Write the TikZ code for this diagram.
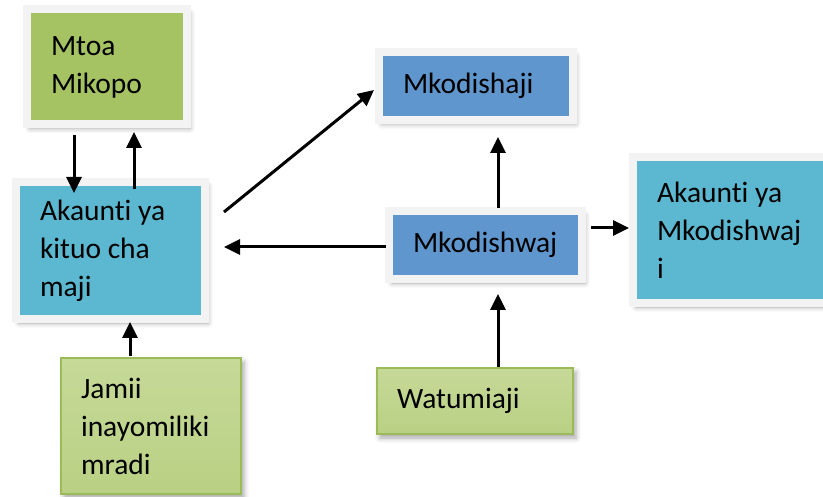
\documentclass[tikz,border=0pt]{standalone}
\usepackage{fontspec}
\setmainfont{Carlito}[Ligatures=NoCommon]
\usetikzlibrary{arrows.meta}
\usetikzlibrary{shadows.blur}

\definecolor{leafGreen}{RGB}{166,195,100}
\definecolor{darkGreen}{RGB}{155,187,89}
\definecolor{paleGreen}{RGB}{198,217,152}
\definecolor{steelBlue}{RGB}{95,150,205}
\definecolor{aquaBlue}{RGB}{92,184,209}
\definecolor{frameGray}{RGB}{243,243,243}

\begin{document}
\begin{tikzpicture}[x=1pt, y=-1pt,
   every node/.style={font=\fontsize{29.5}{38}\selectfont, align=flush left},
   FrameStyle/.style={draw=frameGray, line width=8pt, inner xsep=24pt,
      blur shadow={shadow xshift=3pt, shadow yshift=-4pt, shadow blur radius=5pt, shadow opacity=35}},
   PlainStyle/.style={draw=darkGreen, line width=1.5pt, inner xsep=20pt,
      top color=paleGreen, middle color=leafGreen, bottom color=paleGreen!60!leafGreen,
      blur shadow={shadow xshift=3pt, shadow yshift=-4pt, shadow blur radius=5pt, shadow opacity=35}},
   EdgeStyle/.style={-{Triangle[length=16pt,width=15pt]}, line width=3pt}]
   \useasboundingbox (0,0) rectangle (823,497);
   \clip (0,0) rectangle (823,497);
   \node[FrameStyle, fill=leafGreen, minimum height=115pt, text width=112pt] (mtoa) at (107,67) {Mtoa\\Mikopo};
   \node[FrameStyle, fill=aquaBlue, minimum height=137pt, text width=141pt] (kituo) at (110.5,250.5) {Akaunti ya\\kituo cha\\maji};
   \node[FrameStyle, fill=steelBlue, minimum height=68pt, text width=146pt] (mkodishaji) at (476,86) {Mkodishaji};
   \node[FrameStyle, fill=steelBlue, minimum height=68pt, text width=145pt] (mkodishwaj) at (485.5,245) {Mkodishwaj};
   \node[FrameStyle, fill=aquaBlue, minimum height=146pt, text width=153pt] (akaunti) at (733.5,230) {Akaunti ya\\Mkodishwaj\\i};
   \node[PlainStyle, minimum height=136pt, text width=140pt] (jamii) at (151,426) {Jamii\\inayomiliki\\mradi};
   \node[PlainStyle, minimum height=66pt, text width=156pt] (watumiaji) at (475,401) {Watumiaji};
   \draw[EdgeStyle] ([shift={(-33,6.5)}]mtoa.south) -- ([shift={(-36.5,15)}]kituo.north);
   \draw[EdgeStyle] ([shift={(23.5,11)}]kituo.north) -- ([shift={(27,3.5)}]mtoa.south);
   \draw[EdgeStyle] ([shift={(15,-38.5)}]kituo.east) -- ([shift={(-1,4)}]mkodishaji.west);
   \draw[EdgeStyle] ([shift={(1,2)}]mkodishwaj.west) -- ([shift={(15,-3.5)}]kituo.east);
   \draw[EdgeStyle] ([shift={(12.5,1)}]mkodishwaj.north) -- ([shift={(22,13)}]mkodishaji.south);
   \draw[EdgeStyle] ([shift={(5,-17)}]mkodishwaj.east) -- ([shift={(0,-2)}]akaunti.west);
   \draw[EdgeStyle] ([shift={(-21,-1)}]jamii.north) -- ([shift={(19.5,-1)}]kituo.south);
   \draw[EdgeStyle] ([shift={(23,0)}]watumiaji.north) -- ([shift={(12.5,11)}]mkodishwaj.south);
\end{tikzpicture}
\end{document}
